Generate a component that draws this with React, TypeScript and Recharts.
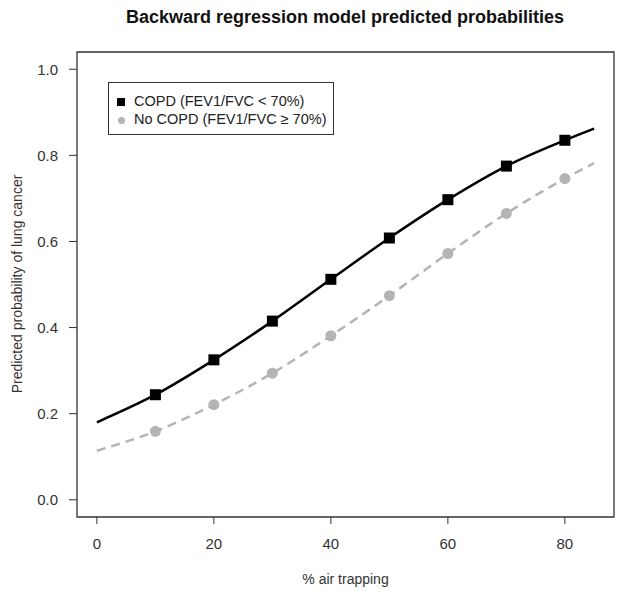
import React from 'react';
import { LineChart, Line, XAxis, YAxis, ReferenceArea } from 'recharts';

// x values (% air trapping) where the curves were read; markers only at 10..80
const airTrapping = [0, 10, 20, 30, 40, 50, 60, 70, 80, 85];
const copdProb = [0.18, 0.244, 0.325, 0.415, 0.512, 0.608, 0.697, 0.775, 0.835, 0.862];
const noCopdProb = [0.114, 0.159, 0.221, 0.294, 0.381, 0.474, 0.572, 0.665, 0.746, 0.782];
const markerX = [10, 20, 30, 40, 50, 60, 70, 80];
const xTicks = [0, 20, 40, 60, 80];
const yTicks = [0, 0.2, 0.4, 0.6, 0.8, 1.0];
const xDomain: [number, number] = [-3.4, 88.4];
const yDomain: [number, number] = [-0.04, 1.04];

const data = airTrapping.map((x, i) => ({ x, copd: copdProb[i], noCopd: noCopdProb[i] }));

const FONT = '"Liberation Sans", Arial, sans-serif';
const GREY = '#b4b4b4';

const SquareDot = (props: any) => {
  const { cx, cy, payload, index } = props;
  if (!markerX.includes(payload.x)) return <g key={`s${index}`} />;
  return <rect key={`s${index}`} x={cx - 5.5} y={cy - 5.5} width={11} height={11} fill="#000" />;
};

const CircleDot = (props: any) => {
  const { cx, cy, payload, index } = props;
  if (!markerX.includes(payload.x)) return <g key={`c${index}`} />;
  return <circle key={`c${index}`} cx={cx} cy={cy} r={5.5} fill={GREY} />;
};

const tickStyle = { fontSize: 15, fill: '#333', fontFamily: FONT };

export default function App() {
  return (
    <div style={{ position: 'relative', width: 616, height: 590, fontFamily: FONT }}>
      <div
        style={{
          position: 'absolute', left: 0, width: 674, top: -1, textAlign: 'center',
          fontSize: 18, fontWeight: 'bold', color: '#111',
        }}
      >
        Backward regression model predicted probabilities
      </div>
      <LineChart
        width={616}
        height={590}
        data={data}
        margin={{ top: 44, right: 10, left: 0, bottom: 41 }}
      >
        <XAxis
          dataKey="x"
          type="number"
          domain={xDomain}
          ticks={xTicks}
          axisLine={false}
          tickSize={7}
          tickMargin={14}
          tickLine={{ stroke: '#333' }}
          tick={tickStyle}
          height={40}
        />
        <YAxis
          type="number"
          domain={yDomain}
          ticks={yTicks}
          axisLine={false}
          tickSize={8}
          tickMargin={11}
          tickLine={{ stroke: '#333' }}
          tick={tickStyle}
          tickFormatter={(v: number) => v.toFixed(1)}
          width={69}
        />
        <ReferenceArea
          x1={xDomain[0]}
          x2={xDomain[1]}
          y1={yDomain[0]}
          y2={yDomain[1]}
          fill="none"
          stroke="#333"
          strokeWidth={1.3}
          ifOverflow="visible"
        />
        <Line
          type="monotone"
          dataKey="noCopd"
          stroke={GREY}
          strokeWidth={2.5}
          strokeDasharray="9 6"
          dot={CircleDot}
          activeDot={false}
          isAnimationActive={false}
        />
        <Line
          type="monotone"
          dataKey="copd"
          stroke="#000"
          strokeWidth={2.5}
          dot={SquareDot}
          activeDot={false}
          isAnimationActive={false}
        />
      </LineChart>
      <div
        style={{
          position: 'absolute', left: 100, top: 74, width: 226, height: 53,
          border: '1px solid #333', background: '#fff', boxSizing: 'border-box',
          fontSize: 14.5, color: '#222',
        }}
      >
        <div style={{ position: 'absolute', left: 25, top: 9, lineHeight: '18px', whiteSpace: 'nowrap' }}>
          COPD (FEV1/FVC &lt; 70%)
        </div>
        <div style={{ position: 'absolute', left: 25, top: 27, lineHeight: '18px', whiteSpace: 'nowrap' }}>
          No COPD (FEV1/FVC ≥ 70%)
        </div>
        <div style={{ position: 'absolute', left: 8, top: 15, width: 8, height: 8, background: '#000' }} />
        <div style={{ position: 'absolute', left: 9, top: 34, width: 7, height: 7, borderRadius: '50%', background: GREY }} />
      </div>
      <div
        style={{
          position: 'absolute', left: 69, width: 537, top: 563, textAlign: 'center',
          fontSize: 14, color: '#333',
        }}
      >
        % air trapping
      </div>
      <div
        style={{
          position: 'absolute', left: 9, top: 276, width: 0, height: 0,
        }}
      >
        <div
          style={{
            position: 'absolute', left: -150, top: -9, width: 300, textAlign: 'center',
            fontSize: 14, lineHeight: '18px', color: '#333', transform: 'rotate(-90deg)',
            whiteSpace: 'nowrap',
          }}
        >
          Predicted probability of lung cancer
        </div>
      </div>
    </div>
  );
}
